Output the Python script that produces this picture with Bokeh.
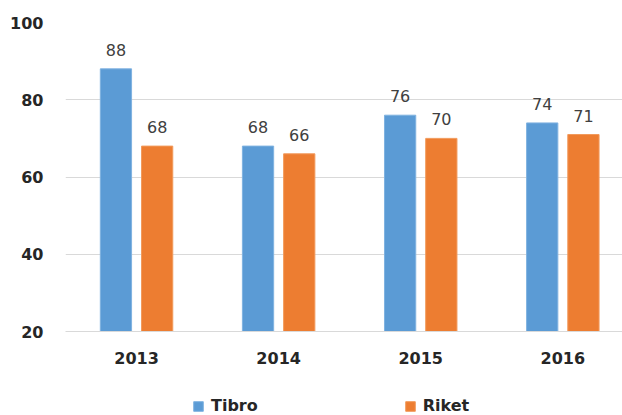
from bokeh.plotting import figure
from bokeh.layouts import column
from bokeh.models import ColumnDataSource, Range1d, Legend, LegendItem, FixedTicker, LabelSet
from bokeh.core.properties import value
from bokeh.embed import file_html
from bokeh.resources import INLINE

years = ["2013", "2014", "2015", "2016"]
tibro = [88, 68, 76, 74]
riket = [68, 66, 70, 71]
y_ticks = [20, 40, 60, 80, 100]

TIBRO_C = "#5B9BD5"
RIKET_C = "#ED7D31"

xs = list(range(len(years)))
off = 0.145
src_t = ColumnDataSource(dict(x=[x - off for x in xs], top=tibro, lab=[str(v) for v in tibro]))
src_r = ColumnDataSource(dict(x=[x + off for x in xs], top=riket, lab=[str(v) for v in riket]))

p = figure(width=622, height=375, output_backend="svg", toolbar_location=None,
           x_range=Range1d(-0.5, 3.42), y_range=Range1d(20, 100),
           min_border_left=65, min_border_right=0, min_border_top=22, min_border_bottom=44)
p.outline_line_color = None

p.vbar(x="x", top="top", bottom=20, width=0.22, source=src_t,
       fill_color=TIBRO_C, line_color="#7FB2E0", line_width=1)
p.vbar(x="x", top="top", bottom=20, width=0.22, source=src_r,
       fill_color=RIKET_C, line_color="#F29A5C", line_width=1)

for s in (src_t, src_r):
    p.add_layout(LabelSet(x="x", y="top", text="lab", source=s, text_align="center",
                          text_baseline="bottom", y_offset=13, text_font=value("DejaVu Sans"),
                          text_font_size=value("16px"), text_color="#404040"))

p.xaxis.ticker = FixedTicker(ticks=xs)
p.xaxis.major_label_overrides = {i: y for i, y in enumerate(years)}
p.xaxis.axis_line_color = "#d9d9d9"
p.xaxis.major_tick_line_color = None
p.xaxis.minor_tick_line_color = None
p.xaxis.major_label_standoff = 14
p.xaxis.major_label_text_font = "DejaVu Sans"
p.xaxis.major_label_text_font_style = "bold"
p.xaxis.major_label_text_font_size = "16px"
p.xaxis.major_label_text_color = "#262626"
p.xgrid.grid_line_color = None

p.yaxis.ticker = FixedTicker(ticks=y_ticks)
p.yaxis.axis_line_color = None
p.yaxis.major_tick_line_color = None
p.yaxis.minor_tick_line_color = None
p.yaxis.major_tick_out = 0
p.yaxis.major_tick_in = 0
p.yaxis.major_label_standoff = 22
p.yaxis.major_label_text_font = "DejaVu Sans"
p.yaxis.major_label_text_font_style = "bold"
p.yaxis.major_label_text_font_size = "16px"
p.yaxis.major_label_text_color = "#262626"
p.ygrid.grid_line_color = "#d9d9d9"
p.ygrid.grid_line_width = 1

# legend strip (ranges chosen so that its proxy bars fall outside the view)
pl = figure(width=622, height=40, output_backend="svg", toolbar_location=None,
            x_range=Range1d(100, 101), y_range=Range1d(500, 501),
            x_axis_type=None, y_axis_type=None, min_border=0)
pl.outline_line_color = None
pl.grid.visible = False
lt = pl.vbar(x="x", top="top", width=0.22, source=src_t, fill_color=TIBRO_C, line_color="#7FB2E0")
lr = pl.vbar(x="x", top="top", width=0.22, source=src_r, fill_color=RIKET_C, line_color="#F29A5C")
legend = Legend(items=[LegendItem(label="Tibro", renderers=[lt]),
                       LegendItem(label="Riket", renderers=[lr])],
                orientation="horizontal", location=(127, 0),
                label_text_font="DejaVu Sans", label_text_font_style="bold",
                label_text_font_size="16px", label_text_color="#262626",
                glyph_width=12, glyph_height=12, spacing=146, label_standoff=7,
                border_line_color=None, background_fill_alpha=0, margin=0, padding=0)
pl.add_layout(legend, "center")

open("out.html", "w").write(file_html(column(p, pl), INLINE))
